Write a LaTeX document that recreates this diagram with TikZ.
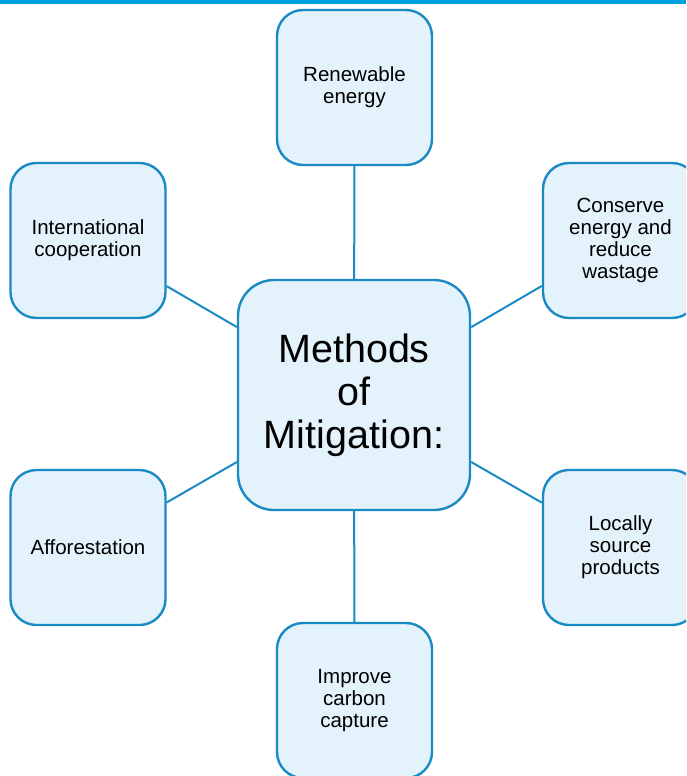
\documentclass[tikz,border=0pt]{standalone}
\usepackage{fontspec}
\setmainfont{Liberation Sans}
\definecolor{edgeblue}{HTML}{1A8AC4}
\definecolor{boxfill}{HTML}{E4F3FB}
\definecolor{barblue}{HTML}{00A0E0}
\tikzset{
  method/.style={draw=edgeblue, fill=boxfill, line width=2.4pt, rounded corners=26pt,
    minimum width=155pt, minimum height=155pt, inner sep=0pt, align=center,
    font=\fontsize{20.5}{22}\selectfont},
  hub/.style={method, minimum width=232pt, minimum height=230pt, rounded corners=36pt,
    font=\fontsize{39.5}{43}\selectfont},
  link/.style={draw=edgeblue, line width=2pt}
}
\begin{document}
\begin{tikzpicture}[x=1pt,y=-1pt]
    \useasboundingbox (0,0) rectangle (686,776);
    \clip (0,0) rectangle (686,776);
    \fill[barblue] (0,0) rectangle (686,4);
    \node[hub] (hub) at (354,395) {Methods\\of\\Mitigation:};
    \node[method] (renew) at (354.5,87.5) {Renewable\\energy};
    \node[method] (coop) at (88,240.5) {International\\cooperation};
    \node[method] (conserve) at (620.5,240.5) {Conserve\\energy and\\reduce\\wastage};
    \node[method] (forest) at (88,547.5) {Afforestation};
    \node[method] (local) at (620.5,547.5) {Locally\\source\\products};
    \node[method] (carbon) at (354.5,700.5) {Improve\\carbon\\capture};
    \foreach \n in {renew,coop,conserve,forest,local,carbon}
      \draw[link] (hub) -- (\n);
\end{tikzpicture}
\end{document}
